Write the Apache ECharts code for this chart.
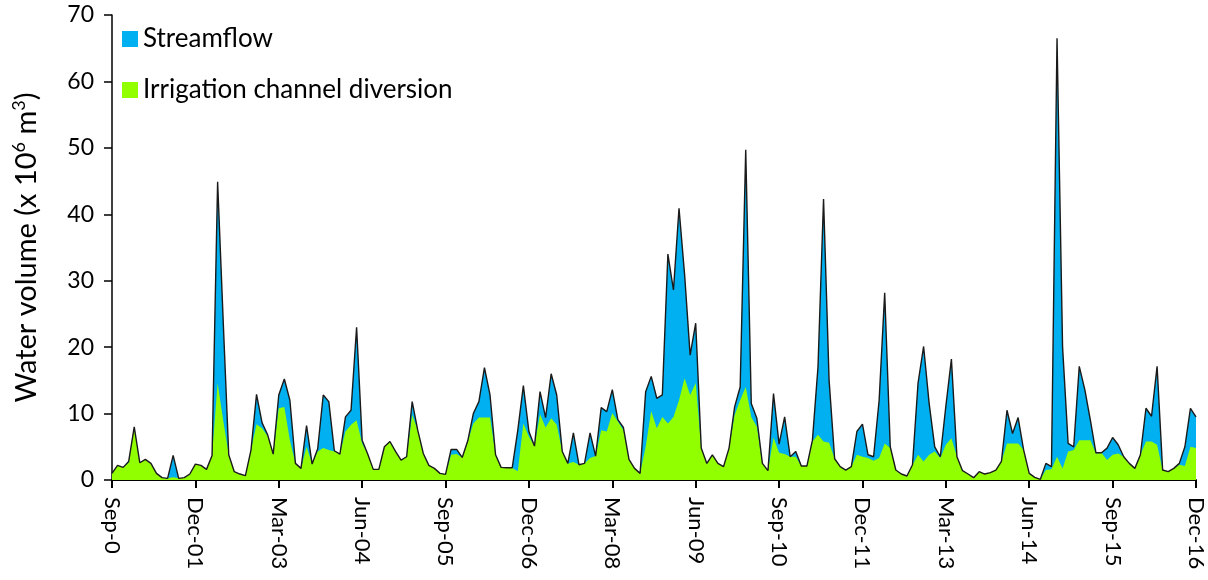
<!DOCTYPE html>
<html>
<head>
<meta charset="utf-8">
<script src="https://cdn.jsdelivr.net/npm/echarts@6/dist/echarts.min.js"></script>
<style>html,body{margin:0;padding:0;background:#fff}#c{width:1208px;height:580px}</style>
</head>
<body>
<div id="c"></div>
<script>
const tickLabels = ['Sep-0','Dec-01','Mar-03','Jun-04','Sep-05','Dec-06','Mar-08','Jun-09','Sep-10','Dec-11','Mar-13','Jun-14','Sep-15','Dec-16'];
const monthNames = ['Jan','Feb','Mar','Apr','May','Jun','Jul','Aug','Sep','Oct','Nov','Dec'];
const categories = [];
for (let y = 2000, m = 8; y < 2017; ) {
  categories.push(monthNames[m] + '-' + String(y % 100).padStart(2, '0'));
  m++; if (m === 12) { m = 0; y++; }
}
const streamflow = [
 1.0,2.2,1.9,2.8,8.0,2.6,3.1,2.5,1.0,0.35,
 0.25,3.7,0.25,0.35,0.9,2.4,2.2,1.6,3.7,44.9,
 24,3.8,1.25,0.9,0.65,4.5,12.9,8.6,6.8,3.9,
 12.8,15.2,12.0,2.5,1.75,8.2,2.4,4.7,12.8,11.8,
 4.4,3.9,9.5,10.5,23.0,6.0,3.9,1.6,1.6,5.0,
 5.8,4.3,3.0,3.5,11.8,7.5,4.0,2.2,1.75,1.0,
 0.85,4.6,4.6,3.4,5.9,10.0,11.8,16.9,12.8,3.8,
 1.9,1.85,1.85,7.5,14.2,7.3,5.1,13.3,9.4,16.0,
 12.8,4.3,2.5,7.1,2.3,2.5,7.1,3.6,10.9,10.3,
 13.6,9.1,7.9,3.1,1.75,1.0,13.3,15.6,12.3,12.8,
 34.0,28.6,40.9,31,18.8,23.6,4.8,2.5,3.8,2.5,
 2.0,4.8,11.0,14,49.7,11.5,9.3,2.5,1.4,13.0,
 5.4,9.5,3.5,4.3,2.1,2.1,6.0,17,42.3,15,
 3.2,2.0,1.5,2.0,7.3,8.4,3.8,3.5,12.0,28.2,
 5.0,1.5,0.9,0.6,2.3,14.6,20.1,11.5,5.0,3.5,
 11.1,18.2,3.5,1.4,0.9,0.35,1.25,0.9,1.1,1.5,
 2.8,10.5,7.0,9.4,4.5,1.0,0.4,0.1,2.5,2.0,
 66.5,20,5.5,5.0,17.1,13.6,9.0,4.1,4.1,4.8,
 6.4,5.3,3.5,2.5,1.75,3.8,10.8,9.6,17.1,1.5,
 1.25,1.75,2.5,5.0,10.8,9.5
];
const irrigation = [
 1.0,2.2,1.9,2.6,8.0,2.6,3.1,2.5,1.0,0.35,
 0.25,0.4,0.25,0.35,0.9,2.4,2.2,1.6,3.7,14.6,
 9,3.8,1.25,0.9,0.65,4.5,8.4,7.8,6.6,3.9,
 10.8,11.0,6.0,2.5,1.75,5.0,2.4,4.3,4.8,4.5,
 4.3,3.9,7.3,8.3,9.0,5.5,3.9,1.6,1.6,5.0,
 5.8,4.3,3.0,3.5,9.8,7.5,4.0,2.2,1.75,1.0,
 0.85,3.8,3.9,3.4,5.8,8.5,9.4,9.4,9.4,3.8,
 1.9,1.85,1.8,1.3,8.5,6.5,5.1,9.9,7.9,9.3,
 8.3,4.3,2.5,2.7,2.3,2.5,3.3,3.6,7.5,7.3,
 10.1,8.8,7.5,3.1,1.75,1.0,5.0,10.4,7.8,9.5,
 8.5,9.5,12.0,15.3,12.8,14.6,4.8,2.5,3.8,2.5,
 2.0,4.8,9.8,12.0,14.0,9.5,8.0,2.5,1.4,6.4,
 4.1,3.9,3.5,3.5,2.1,2.1,5.8,6.8,5.8,5.6,
 3.2,2.0,1.5,2.0,3.8,3.5,3.3,2.9,3.3,5.5,
 4.8,1.5,0.9,0.6,2.3,3.8,2.8,3.8,4.3,3.3,
 5.3,6.3,3.5,1.4,0.9,0.35,1.25,0.9,1.1,1.5,
 2.8,5.5,5.5,5.5,4.5,1.0,0.4,0.1,1.5,1.6,
 3.5,1.75,4.3,4.5,6.0,6.0,6.0,4.0,4.1,3.0,
 3.8,4.0,3.5,2.5,1.75,3.8,5.8,5.8,5.3,1.5,
 1.25,1.75,2.3,2.1,5.0,4.8
];
const yTicks = [0, 70, 10];
const seriesNames = ['Streamflow', 'Irrigation channel diversion'];

const FONT = 'Lato';
const chart = echarts.init(document.getElementById('c'), null, {renderer: 'canvas'});
chart.setOption({
  animation: false,
  backgroundColor: '#fff',
  textStyle: {fontFamily: FONT, color: '#000'},
  grid: {left: 112, right: 12, top: 15, bottom: 100},
  legend: {
    data: seriesNames.map(n => ({name: n, icon: 'rect'})),
    orient: 'vertical', left: 117, top: 21, itemWidth: 16, itemHeight: 16, itemGap: 25,
    textStyle: {fontFamily: FONT, fontSize: 26, color: '#000'}
  },
  xAxis: {
    type: 'category', data: categories, boundaryGap: false,
    axisLine: {lineStyle: {color: '#000', width: 2}},
    axisTick: {length: 8, interval: i => i % 15 === 0, lineStyle: {color: '#000', width: 2}},
    axisLabel: {
      interval: i => i % 15 === 0, rotate: -90, margin: 17, fontSize: 22, color: '#000', fontFamily: FONT,
      formatter: (v, i) => tickLabels[i / 15]
    },
    splitLine: {show: false}
  },
  yAxis: {
    type: 'value', min: yTicks[0], max: yTicks[1], interval: yTicks[2],
    name: 'Water volume (x 10{s|6} m{s|3})', nameLocation: 'middle', nameGap: 68, nameRotate: 90,
    nameTextStyle: {fontFamily: FONT, fontSize: 29, color: '#000', rich: {s: {fontSize: 18, fontFamily: FONT, color: '#000', padding: [0, 0, 16, 0]}}},
    axisLine: {show: true, lineStyle: {color: '#000', width: 1.5}},
    axisTick: {show: true, length: 8, lineStyle: {color: '#000', width: 1.5}},
    axisLabel: {fontSize: 23, color: '#000', margin: 18, fontFamily: FONT},
    splitLine: {show: false}
  },
  series: [
    {name: seriesNames[0], type: 'line', data: streamflow, showSymbol: false, symbol: 'none',
     lineStyle: {width: 0}, itemStyle: {color: '#00B0F0'}, areaStyle: {color: '#00B0F0', opacity: 1}, z: 2},
    {name: seriesNames[1], type: 'line', data: irrigation, showSymbol: false, symbol: 'none',
     lineStyle: {width: 0}, itemStyle: {color: '#92FF00'}, areaStyle: {color: '#92FF00', opacity: 1}, z: 3},
    {name: 'outline', type: 'line', data: streamflow, showSymbol: false, symbol: 'none',
     lineStyle: {width: 1.4, color: '#1a1a1a'}, z: 4, silent: true}
  ]
});
</script>
</body>
</html>
